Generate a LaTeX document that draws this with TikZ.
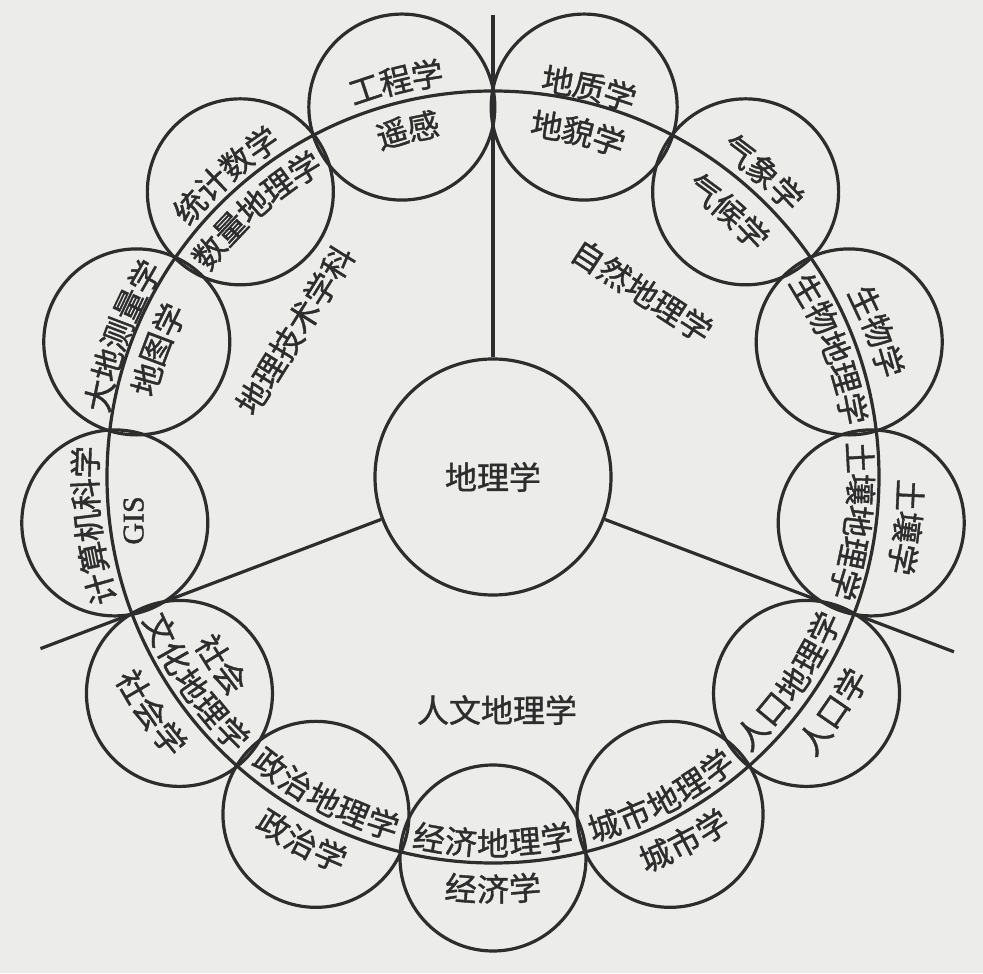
\documentclass[tikz,border=0pt]{standalone}
\usepackage{fontspec}
\newfontfamily\cjk[FakeBold=1.2]{Noto Sans CJK SC}
\newfontfamily\latinserif[FakeBold=1.2]{Liberation Serif}
\definecolor{ink}{RGB}{45,45,45}
\definecolor{paper}{RGB}{236,236,234}
\newcommand{\arclabel}[6]{%
  \foreach \chr [count=\i] in {#6} {
    \pgfmathsetmacro\pos{#2+(#4)*(\i-(#5+1)/2)*32/(#3)*180/pi}
    \pgfmathsetmacro\rot{\pos+(#4)*90}
    \node[glyph, rotate=\rot] (#1-\i) at (\pos:#3) {\chr};
  }%
}

\begin{document}
\begin{tikzpicture}[
  x=0.5pt, y=0.5pt,
  ringline/.style={circle, draw=ink, line width=1.6pt,
                   minimum size=386pt, inner sep=0pt},
  disc/.style={circle, draw=ink, line width=1.6pt,
               minimum size=93pt, inner sep=0pt},
  hub/.style={circle, draw=ink, line width=1.6pt,
              minimum size=118pt, inner sep=0pt,
              font=\cjk\fontsize{16pt}{16pt}\selectfont, text=ink},
  glyph/.style={inner sep=0pt, text=ink,
                font=\cjk\fontsize{16pt}{16pt}\selectfont},
  latin/.style={inner sep=0pt, text=ink,
                font=\latinserif\fontsize{15pt}{15pt}\selectfont},
  spoke/.style={draw=ink, line width=1.6pt},
]
\fill[paper] (-493,-496) rectangle (490,477);
\useasboundingbox (-493,-496) rectangle (490,477);

\node[ringline] (ring) at (0,0) {};
\foreach \k in {0,...,12}
  \node[disc] (c\k) at ({76.1538-27.6923*\k}:381) {};

\node[hub] (geo) at (0,0) {地理学};

\coordinate (pN) at (90:462);
\coordinate (pE) at (-20.77:493);
\coordinate (pW) at (-159.23:484);
\draw[spoke] (geo) -- (pN);
\draw[spoke] (geo) -- (pE);
\draw[spoke] (geo) -- (pW);

\node[glyph, rotate=-33] (natural) at (149,186) {自然地理学};
\node[glyph, rotate=58]  (tech)    at (-198,147) {地理技术学科};
\node[glyph]             (human)   at (4,-233) {人文地理学};

\arclabel{dz}{76.15}{402}{-1}{3}{地,质,学}
\arclabel{dm}{76.15}{356}{-1}{3}{地,貌,学}
\arclabel{qx}{48.46}{408}{-1}{3}{气,象,学}
\arclabel{qh}{48.46}{356}{-1}{3}{气,候,学}
\arclabel{sw}{20.77}{412}{-1}{3}{生,物,学}
\arclabel{swd}{20.77}{366}{-1}{5}{生,物,地,理,学}
\arclabel{tr}{-6.92}{418}{-1}{3}{土,壤,学}
\arclabel{trd}{-6.92}{368}{-1}{5}{土,壤,地,理,学}
\arclabel{rk}{-34.6}{414}{1}{3}{人,口,学}
\arclabel{rkd}{-34.6}{364}{1}{5}{人,口,地,理,学}
\arclabel{cs}{-62.3}{412}{1}{3}{城,市,学}
\arclabel{csd}{-62.3}{366}{1}{5}{城,市,地,理,学}
\arclabel{jj}{-90}{412}{1}{3}{经,济,学}
\arclabel{jjd}{-90}{366}{1}{5}{经,济,地,理,学}
\arclabel{zz}{-117.7}{412}{1}{3}{政,治,学}
\arclabel{zzd}{-117.7}{364}{1}{5}{政,治,地,理,学}
\arclabel{sh}{-145.4}{416}{1}{3}{社,会,学}
\arclabel{shd}{-145.4}{366}{1}{5}{文,化,地,理,学}
\arclabel{shs}{-145.4}{330}{1}{2}{社,会}
\arclabel{js}{186.9}{408}{-1}{5}{计,算,机,科,学}
\node[latin, rotate=90] (gis) at (186.9:362) {GIS};
\arclabel{dd}{159.2}{402}{-1}{5}{大,地,测,量,学}
\arclabel{dt}{159.2}{360}{-1}{3}{地,图,学}
\arclabel{tj}{131.5}{406}{-1}{4}{统,计,数,学}
\arclabel{sl}{131.5}{362}{-1}{5}{数,量,地,理,学}
\arclabel{gc}{103.8}{408}{-1}{3}{工,程,学}
\arclabel{yg}{103.8}{358}{-1}{2}{遥,感}
\end{tikzpicture}
\end{document}
